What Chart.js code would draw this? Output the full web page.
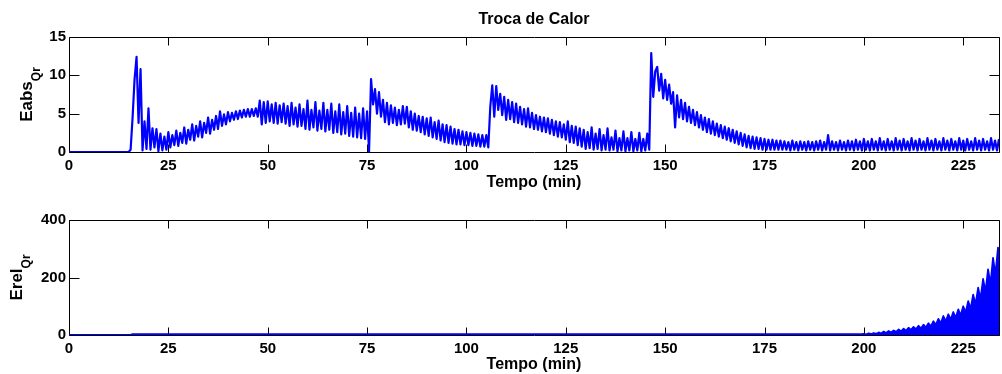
<!DOCTYPE html>
<html>
<head>
<meta charset="utf-8">
<title>Troca de Calor</title>
<script src="https://cdn.jsdelivr.net/npm/chart.js"></script>
<style>
  html, body { margin: 0; padding: 0; background: #fff; }
  #wrap { position: relative; width: 1002px; height: 374px; overflow: hidden; }
  canvas { position: absolute; left: 0; }
  #eabs { top: 0; }
  #erel { top: 192px; }
</style>
</head>
<body>
<div id="wrap">
  <canvas id="eabs" width="1002" height="192"></canvas>
  <canvas id="erel" width="1002" height="182"></canvas>
</div>
<script>
// tempo de amostragem do erro absoluto (min)
const sampleMin = 0.5;

// erro absoluto da troca de calor, uma linha = 5 min
const eabsQr = [
  0, 0, 0, 0, 0, 0, 0, 0, 0, 0,
  0, 0, 0, 0, 0, 0, 0, 0, 0, 0,
  0, 0, 0, 0, 0, 0, 0, 0, 0, 0,
  0, 0.3, 4.5, 9.5, 12.4, 3.8, 10.8, 0.2, 4.0, 0.4,
  5.7, 0.3, 3.1, 0.6, 3.0, 0.1, 2.4, 0.2, 2.0, 0.3,
  2.6, 0.6, 2.2, 0.9, 2.8, 0.8, 2.5, 1.2, 3.2, 1.1,
  2.9, 1.6, 3.6, 1.5, 3.4, 2.0, 4.0, 1.9, 3.8, 2.5,
  4.5, 2.4, 4.2, 2.9, 4.7, 3.0, 5.3, 3.4, 4.9, 3.6,
  5.2, 4.0, 5.1, 4.2, 5.3, 4.3, 5.4, 4.5, 5.5, 4.6,
  5.6, 4.6, 5.6, 4.7, 5.7, 4.6, 6.7, 3.6, 6.5, 3.8,
  6.6, 4.0, 6.2, 3.8, 6.4, 3.7, 6.1, 3.9, 6.3, 3.7,
  6.0, 3.4, 6.4, 3.6, 5.8, 3.3, 6.2, 3.4, 5.6, 3.0,
  6.7, 2.9, 5.5, 3.2, 6.5, 2.8, 5.4, 3.0, 6.4, 2.7,
  5.5, 2.9, 6.3, 2.5, 5.3, 2.6, 6.2, 2.3, 5.2, 2.4,
  6.0, 2.1, 5.1, 2.0, 5.8, 1.9, 5.0, 1.8, 5.7, 1.7,
  5.3, 0.1, 9.5, 6.2, 8.2, 5.0, 7.8, 4.6, 6.8, 3.9,
  6.4, 3.6, 6.1, 3.8, 5.8, 3.5, 5.5, 3.6, 6.0, 3.7,
  5.9, 3.2, 5.3, 2.9, 5.0, 2.8, 4.7, 2.6, 4.6, 2.3,
  4.4, 2.1, 4.5, 1.9, 3.9, 1.7, 4.1, 1.5, 3.6, 1.3,
  3.5, 1.2, 3.3, 1.1, 3.0, 1.0, 2.9, 1.0, 2.7, 0.9,
  2.6, 0.9, 2.5, 0.8, 2.4, 0.8, 2.3, 0.7, 2.2, 0.7,
  2.2, 0.6, 5.9, 8.7, 4.6, 8.6, 5.5, 7.6, 4.8, 7.2,
  4.2, 6.8, 4.3, 6.5, 3.9, 6.3, 3.8, 5.9, 3.6, 5.6,
  3.3, 5.7, 3.2, 5.1, 3.0, 4.8, 2.9, 4.6, 2.7, 4.5,
  2.6, 4.4, 2.4, 4.2, 2.2, 4.0, 2.0, 3.9, 1.9, 3.6,
  1.6, 4.0, 1.3, 3.4, 1.2, 3.3, 0.9, 3.1, 0.7, 2.9,
  0.4, 2.6, 0.5, 3.2, 0.3, 2.4, 0.4, 3.0, 0.2, 2.2,
  0.3, 3.1, 0.2, 1.9, 0.3, 2.8, 0.1, 1.8, 0.2, 2.7,
  0.1, 1.8, 0.2, 2.6, 0.1, 1.7, 0.2, 2.5, 0.1, 1.7,
  0.2, 2.4, 0.3, 12.9, 7.2, 10.5, 11.1, 8.0, 10.2, 7.0,
  9.4, 6.8, 8.8, 6.3, 7.8, 3.2, 7.4, 4.5, 6.8, 4.3,
  6.4, 4.0, 5.9, 3.8, 5.5, 3.5, 5.2, 3.2, 4.8, 2.9,
  4.5, 2.6, 4.3, 2.4, 4.0, 2.2, 3.7, 2.0, 3.5, 1.8,
  3.3, 1.6, 3.1, 1.4, 2.9, 1.2, 2.7, 1.0, 2.5, 0.8,
  2.3, 0.6, 2.1, 0.5, 2.0, 0.4, 1.9, 0.4, 1.8, 0.3,
  1.7, 0.3, 1.6, 0.3, 1.6, 0.3, 1.5, 0.3, 1.5, 0.3,
  1.4, 0.3, 1.3, 0.2, 1.5, 0.3, 1.3, 0.2, 1.4, 0.3,
  1.3, 0.2, 1.4, 0.3, 1.3, 0.2, 1.4, 0.3, 1.5, 0.2,
  1.3, 0.3, 2.2, 0.2, 1.4, 0.3, 1.3, 0.2, 1.5, 0.3,
  1.3, 0.2, 1.5, 0.3, 1.4, 0.2, 1.6, 0.3, 1.4, 0.2,
  1.7, 0.3, 1.4, 0.2, 1.7, 0.3, 1.4, 0.2, 1.8, 0.3,
  1.4, 0.2, 1.7, 0.3, 1.4, 0.2, 1.8, 0.3, 1.5, 0.2,
  1.7, 0.3, 1.4, 0.2, 1.8, 0.3, 1.5, 0.2, 1.7, 0.3,
  1.4, 0.2, 1.8, 0.3, 1.5, 0.2, 1.7, 0.3, 1.4, 0.2,
  1.8, 0.3, 1.5, 0.2, 1.7, 0.3, 1.4, 0.2, 1.8, 0.3,
  1.5, 0.2, 1.7, 0.3, 1.4, 0.2, 1.8, 0.3, 1.5, 0.2,
  1.7, 0.3, 1.4, 0.2, 1.8, 0.3, 1.5, 0.2, 1.7
];

// erro relativo: quase nulo ate 200 min, depois cresce em dentes
const erelTime = [
  0, 15.5, 16, 199.4,
  200.0, 200.6, 201.25, 201.85, 202.5, 203.1, 203.75, 204.35,
  205.0, 205.6, 206.25, 206.85, 207.5, 208.1, 208.75, 209.35,
  210.0, 210.6, 211.25, 211.85, 212.5, 213.1, 213.75, 214.35,
  215.0, 215.6, 216.25, 216.85, 217.5, 218.1, 218.75, 219.35,
  220.0, 220.6, 221.25, 221.85, 222.5, 223.1, 223.75, 224.35,
  225.0, 225.6, 226.25, 226.85, 227.5, 228.1, 228.75, 229.35,
  230.0, 230.6, 231.25, 231.85, 232.5, 233.1, 233.75, 234.0
];
const erelQr = [
  0.5, 0.5, 3, 3,
  4, 2, 6, 3, 7, 4, 9, 5,
  12, 7, 14, 9, 16, 11, 19, 13,
  22, 15, 25, 18, 28, 20, 32, 23,
  36, 26, 41, 30, 48, 35, 56, 41,
  66, 48, 72, 54, 80, 60, 89, 68,
  100, 78, 118, 90, 140, 106, 165, 125,
  195, 150, 228, 176, 268, 210, 304, 240
];

const xTicks = [0, 25, 50, 75, 100, 125, 150, 175, 200, 225];
const eabsTicks = [0, 5, 10, 15];
const erelTicks = [0, 200, 400];

const fontFamily = '"Liberation Sans", Arial, Helvetica, sans-serif';
Chart.defaults.font.family = fontFamily;
Chart.defaults.font.weight = 'bold';
Chart.defaults.color = '#000';

// caixa, marcas para dentro, titulo e rotulo do eixo y com subscrito
const axesBox = {
  id: 'axesBox',
  beforeDatasetsDraw(chart, args, opts) {
    const { ctx, chartArea: a, scales } = chart;
    const l = Math.round(a.left) + 0.5, r = Math.round(a.right) + 0.5;
    const t = Math.round(a.top) + 0.5, b = Math.round(a.bottom) + 0.5;
    ctx.save();
    ctx.strokeStyle = '#000';
    ctx.lineWidth = 1;
    ctx.beginPath();
    ctx.rect(l, t, r - l, b - t);
    scales.x.ticks.forEach(tk => {
      const x = Math.round(scales.x.getPixelForValue(tk.value)) + 0.5;
      ctx.moveTo(x, b); ctx.lineTo(x, b - 8);
      ctx.moveTo(x, t); ctx.lineTo(x, t + 8);
    });
    scales.y.ticks.forEach(tk => {
      const y = Math.round(scales.y.getPixelForValue(tk.value)) + 0.5;
      ctx.moveTo(l, y); ctx.lineTo(l + 10, y);
      ctx.moveTo(r, y); ctx.lineTo(r - 10, y);
    });
    ctx.stroke();
    ctx.restore();
  },
  afterDraw(chart, args, opts) {
    const { ctx, chartArea: a } = chart;
    ctx.save();
    ctx.fillStyle = '#000';
    if (opts.title) {
      ctx.font = 'bold 16px ' + fontFamily;
      ctx.textAlign = 'center';
      ctx.textBaseline = 'middle';
      ctx.fillText(opts.title, (a.left + a.right) / 2, opts.titleY);
    }
    // rotulo vertical: texto principal + subscrito deslocado para baixo
    ctx.font = 'bold 17px ' + fontFamily;
    const w1 = ctx.measureText(opts.label).width;
    ctx.font = 'bold 12px ' + fontFamily;
    const w2 = ctx.measureText(opts.sub).width;
    const start = -(w1 + w2) / 2;
    ctx.translate(opts.labelX, (a.top + a.bottom) / 2);
    ctx.rotate(-Math.PI / 2);
    ctx.textAlign = 'left';
    ctx.textBaseline = 'alphabetic';
    ctx.font = 'bold 17px ' + fontFamily;
    ctx.fillText(opts.label, start, 0);
    ctx.font = 'bold 12px ' + fontFamily;
    ctx.fillText(opts.sub, start + w1, 8);
    ctx.restore();
  }
};

function makeScales(yTicks, yMax, xHeight) {
  return {
    x: {
      type: 'linear',
      min: 0,
      max: 234,
      grid: { display: false, drawTicks: false },
      border: { display: false },
      afterBuildTicks: s => { s.ticks = xTicks.map(v => ({ value: v })); },
      afterFit: s => { s.height = xHeight; },
      ticks: { padding: 5, font: { size: 15, weight: 'bold' }, maxRotation: 0 },
      title: { display: true, text: 'Tempo (min)', font: { size: 16, weight: 'bold' }, padding: 0 }
    },
    y: {
      min: 0,
      max: yMax,
      grid: { display: false, drawTicks: false },
      border: { display: false },
      afterBuildTicks: s => { s.ticks = yTicks.map(v => ({ value: v })); },
      afterFit: s => { s.width = 69; },
      ticks: { padding: 3, font: { size: 15, weight: 'bold' } }
    }
  };
}

new Chart(document.getElementById('eabs'), {
  type: 'line',
  data: {
    datasets: [{
      data: eabsQr.map((v, i) => ({ x: i * sampleMin, y: v })),
      borderColor: '#0000ff',
      borderWidth: 2.2,
      borderJoinStyle: 'round',
      pointRadius: 0,
      tension: 0,
      fill: false
    }]
  },
  options: {
    responsive: false,
    animation: false,
    parsing: false,
    layout: { padding: { top: 37, right: 3, left: 0, bottom: 0 } },
    scales: makeScales(eabsTicks, 15, 40),
    plugins: {
      legend: { display: false },
      tooltip: { enabled: false },
      axesBox: { title: 'Troca de Calor', titleY: 19.5, label: 'Eabs', sub: 'Qr', labelX: 32 }
    }
  },
  plugins: [axesBox]
});

new Chart(document.getElementById('erel'), {
  type: 'line',
  data: {
    datasets: [{
      data: erelTime.map((t, i) => ({ x: t, y: erelQr[i] })),
      borderColor: '#0000ff',
      backgroundColor: '#0000ff',
      borderWidth: 1.8,
      borderJoinStyle: 'round',
      pointRadius: 0,
      tension: 0,
      fill: 'origin'
    }]
  },
  options: {
    responsive: false,
    animation: false,
    parsing: false,
    layout: { padding: { top: 28, right: 3, left: 0, bottom: 0 } },
    scales: makeScales(erelTicks, 400, 39),
    plugins: {
      legend: { display: false },
      tooltip: { enabled: false },
      axesBox: { label: 'Erel', sub: 'Qr', labelX: 22 }
    }
  },
  plugins: [axesBox]
});
</script>
</body>
</html>
